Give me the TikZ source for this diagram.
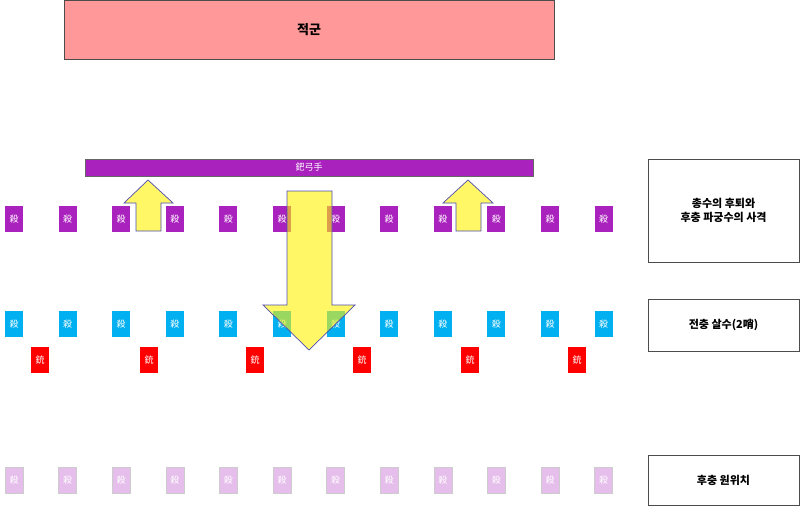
\documentclass[tikz,border=0pt]{standalone}
\usepackage{fontspec}
\setmainfont{Noto Sans CJK KR}
\begin{document}
\begin{tikzpicture}[x=1pt,y=-1pt,
  unit/.style={minimum width=18pt,minimum height=26pt,inner sep=0pt,font=\fontsize{9}{9}\selectfont,text=white},
  lab/.style={draw=black!70,fill=white,font=\fontsize{11}{14}\selectfont\bfseries,align=center,inner sep=0pt},
  arr/.style={draw=blue!40!gray,fill=yellow,fill opacity=0.6,line width=0.7pt}]
\useasboundingbox (0,0) rectangle (800,507);
\node[draw=black!70,fill={rgb,255:red,255;green,153;blue,153},minimum width=490pt,minimum height=59pt,inner sep=0pt,font=\fontsize{13}{13}\selectfont\bfseries] (enemy) at (309,29.5) {적군};
\node[draw=black!60,fill={rgb,255:red,170;green,34;blue,190},minimum width=448pt,minimum height=17pt,inner sep=0pt,text=white,font=\fontsize{9}{9}\selectfont] (bar) at (309,167.5) {鈀弓手};
\foreach \i in {0,...,11}{
  \pgfmathsetmacro\xx{14+53.6*\i}
  \node[unit,fill={rgb,255:red,170;green,34;blue,190}] (p\i) at (\xx,219) {殺};
  \node[unit,fill={rgb,255:red,0;green,176;blue,240}] (b\i) at (\xx,324) {殺};
  \node[unit,fill={rgb,255:red,230;green,190;blue,235},draw=black!20] (l\i) at (\xx,480) {殺};
}
\foreach \i/\xx in {0/40,1/149,2/255,3/362,4/470,5/577}{
  \node[unit,fill=red] (r\i) at (\xx,360) {銃};
}
\draw[arr] (148,180) -- (173,203) -- (161,203) -- (161,231) -- (136,231) -- (136,203) -- (124,203) -- cycle;
\draw[arr] (468,180) -- (493,203) -- (481,203) -- (481,231) -- (456,231) -- (456,203) -- (443,203) -- cycle;
\draw[arr] (287,191) -- (332,191) -- (332,305) -- (355,305) -- (309,350) -- (263,305) -- (287,305) -- cycle;
\node[lab,minimum width=151pt,minimum height=103pt] (t1) at (723.5,210.5) {총수의 후퇴와\\후충 파궁수의 사격};
\node[lab,minimum width=151pt,minimum height=52pt] (t2) at (723.5,325) {전충 살수(2哨)};
\node[lab,minimum width=151pt,minimum height=50pt] (t3) at (723.5,480) {후충 원위치};
\end{tikzpicture}
\end{document}
